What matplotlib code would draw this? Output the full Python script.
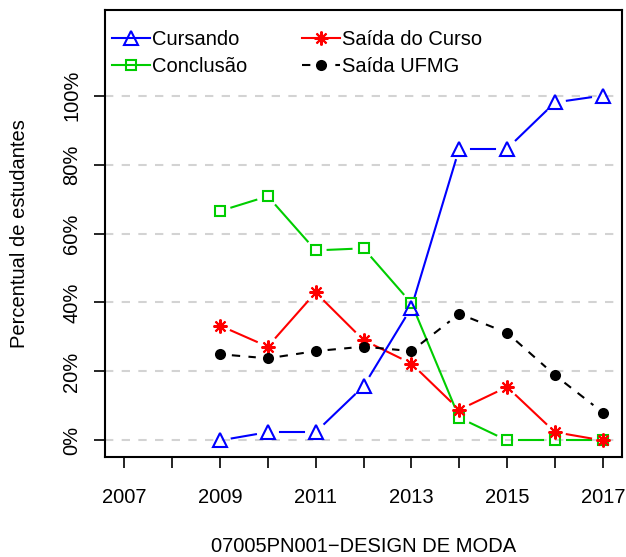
import matplotlib
matplotlib.use("Agg")
import matplotlib.pyplot as plt
import numpy as np

plt.rcParams['font.family'] = ['Liberation Sans', 'DejaVu Sans']

years = [2009, 2010, 2011, 2012, 2013, 2014, 2015, 2016, 2017]
cursando = [0.0, 2.4, 2.4, 15.7, 38.5, 84.6, 84.6, 98.0, 100.0]
conclusao = [66.5, 70.8, 55.1, 55.7, 39.8, 6.6, 0.0, 0.0, 0.0]
saida_curso = [33.3, 27.2, 42.9, 29.1, 22.3, 8.9, 15.5, 2.4, 0.0]
saida_ufmg = [25.0, 23.8, 25.9, 27.2, 25.9, 36.7, 31.2, 18.9, 8.1]

x_ticks = list(range(2007, 2018))
y_ticks = [0, 20, 40, 60, 80, 100]
title = "07005PN001\u2212DESIGN DE MODA"

FS = 14.5
fig = plt.figure(figsize=(6.26, 5.57), dpi=100)
ax = fig.add_axes([105 / 626, 1 - 457 / 557, 517 / 626, 447 / 557])
ax.set_xlim(2006.6, 2017.4)
ax.set_ylim(-4.8, 124.8)

for v in y_ticks:
    ax.axhline(v, color="#D3D3D3", lw=1.5, ls=(0, (4, 4)), zorder=1)


def gapped(ax, xs, ys, gap_px, **kw):
    """Draw R-style 'type=b' segments that stop short of each point."""
    fig.canvas.draw()
    tr = ax.transData
    pts = tr.transform(np.column_stack([xs, ys]))
    inv = tr.inverted()
    for p0, p1 in zip(pts[:-1], pts[1:]):
        d = p1 - p0
        L = np.hypot(*d)
        if L <= 2 * gap_px:
            continue
        u = d / L
        a = inv.transform(p0 + u * gap_px)
        b = inv.transform(p1 - u * gap_px)
        ax.plot([a[0], b[0]], [a[1], b[1]], **kw)


series = [
    (conclusao, "#00CD00", dict(marker="s", ms=7, mfc="none", mew=1.5), "-", "Conclusão", 3),
    (saida_curso, "#FF0000", dict(marker=(8, 2, 0), ms=10, mew=1.5), "-", "Saída do Curso", 4),
    (saida_ufmg, "black", dict(marker="o", ms=8, mfc="black", mew=0), (0, (4, 4)), "Saída UFMG", 5),
    (cursando, "#0000FF", dict(marker="^", ms=9.5, mfc="none", mew=1.5), "-", "Cursando", 6),
]

handles = {}
for ys, col, mk, ls, lab, z in series:
    gapped(ax, years, ys, 12, color=col, lw=1.5, ls=ls, zorder=z)
    ax.plot(years, ys, ls="none", color=col, mec=col, zorder=z + 0.5, **mk)
    h, = ax.plot([], [], color=col, mec=col, lw=1.5, ls=ls, **mk)
    handles[lab] = h

order = ["Cursando", "Conclusão", "Saída do Curso", "Saída UFMG"]
ax.legend([handles[k] for k in order], order, ncol=2, loc="upper left",
          bbox_to_anchor=(0.013, 0.955), frameon=False, fontsize=FS,
          handlelength=1.9, handletextpad=0.1, columnspacing=2.7,
          labelspacing=0.4, borderpad=0, borderaxespad=0)

ax.set_xticks(x_ticks)
ax.set_xticklabels([str(y) if y % 2 == 1 else "" for y in x_ticks], fontsize=FS)
ax.set_yticks(y_ticks)
ax.set_yticklabels([f"{v}%" for v in y_ticks], fontsize=FS, rotation=90, va="center")
ax.tick_params(axis="x", length=8, width=1.2, pad=14)
ax.tick_params(axis="y", length=8, width=1.2, pad=9)
for s in ax.spines.values():
    s.set_linewidth(1.5)

ax.set_ylabel("Percentual de estudantes", fontsize=FS, labelpad=24)
ax.set_xlabel(title, fontsize=FS, labelpad=22)

fig.savefig("out.png", dpi=100)
